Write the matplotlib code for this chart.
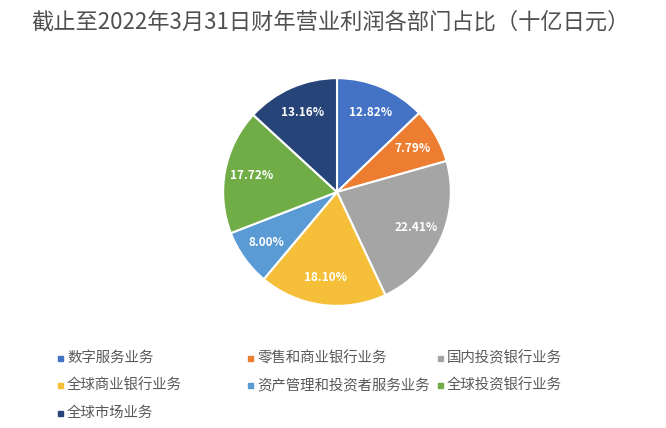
import matplotlib
matplotlib.use('Agg')
import matplotlib.pyplot as plt
from matplotlib.patches import Rectangle

plt.rcParams['font.family'] = ['Noto Sans CJK SC', 'DejaVu Sans']

# segment data (percent of operating profit)
segments = ['数字服务业务', '零售和商业银行业务', '国内投资银行业务', '全球商业银行业务',
            '资产管理和投资者服务业务', '全球投资银行业务', '全球市场业务']
shares = [12.82, 7.79, 22.41, 18.10, 8.00, 17.72, 13.16]
colors = ['#4472C4', '#ED7D31', '#A5A5A5', '#F5BF3A', '#5B9BD5', '#70AD47', '#264478']
title = '截止至2022年3月31日财年营业利润各部门占比（十亿日元）'

W, H = 666, 428
fig = plt.figure(figsize=(W / 100, H / 100), dpi=100)

# pie axes: centre (337,192) px, radius 115 px
cx, cy, r = 337, 192, 115
ax = fig.add_axes([(cx - r) / W, (H - cy - r) / H, 2 * r / W, 2 * r / H])
wedges, texts, autotexts = ax.pie(
    shares, colors=colors, startangle=90, counterclock=False,
    autopct='%.2f%%', pctdistance=0.76,
    wedgeprops=dict(edgecolor='white', linewidth=1.5),
    textprops=dict(color='white', fontsize=8.5, fontweight='bold'))
ax.set_xlim(-1.01, 1.01)
ax.set_ylim(-1.01, 1.01)
ax.set_aspect('equal')

fig.text(330 / W, 1 - 22 / H, title, ha='center', va='center',
         fontsize=16, color='#505050')

# legend laid out in 3 columns
x0, dx = 60, 190
y0, dy = 358, 27.5
for i, (lab, col) in enumerate(zip(segments, colors)):
    row, c = divmod(i, 3)
    x = x0 + c * dx
    y = y0 + row * dy
    fig.add_artist(Rectangle(((x - 2.5) / W, 1 - (y + 2.5) / H), 5 / W, 5 / H,
                             transform=fig.transFigure, color=col))
    fig.text((x + 7) / W, 1 - y / H, lab, ha='left', va='center',
             fontsize=10.4, color='#595959')

fig.savefig('out.png', dpi=100, facecolor='white')
